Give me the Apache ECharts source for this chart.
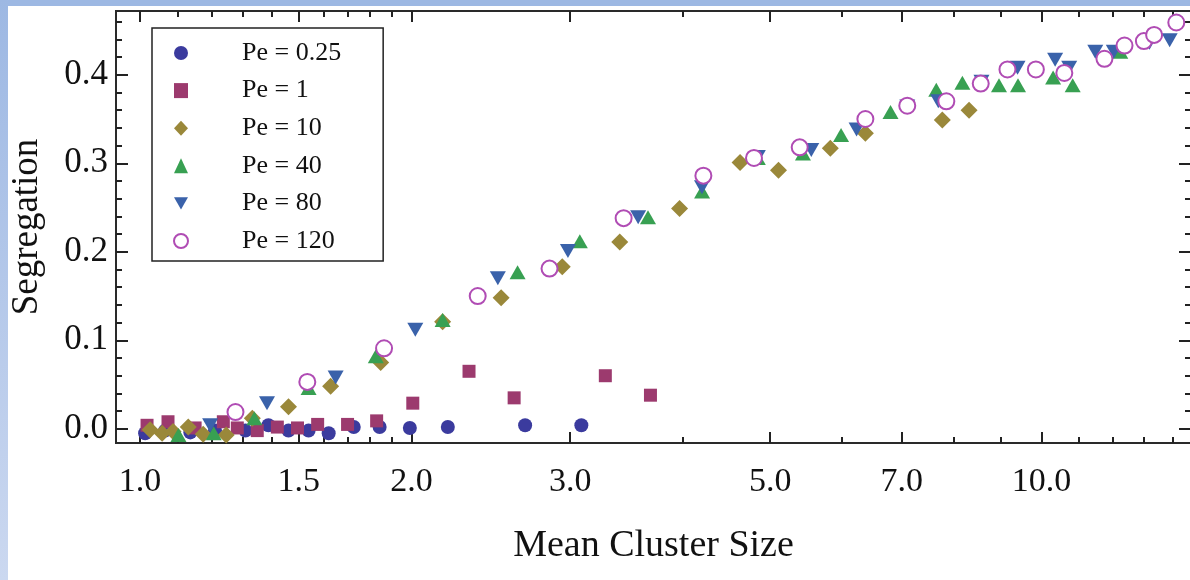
<!DOCTYPE html>
<html>
<head>
<meta charset="utf-8">
<script src="https://cdn.jsdelivr.net/npm/echarts@6/dist/echarts.min.js"></script>
<style>
  html, body { margin: 0; padding: 0; width: 1190px; height: 580px; overflow: hidden; background: #fff; }
  #bandTop { position: absolute; left: 0; top: 0; width: 1190px; height: 6px; background: #9db8e3; }
  #bandLeft { position: absolute; left: 0; top: 0; width: 8px; height: 580px; background: linear-gradient(#9db8e3, #cbd8f0); }
  #chart { position: absolute; left: 0; top: 0; width: 1190px; height: 580px; }
</style>
</head>
<body>
<div id="bandTop"></div>
<div id="bandLeft"></div>
<div id="chart"></div>
<script>
// Segregation versus mean cluster size, one scatter series per Péclet number.
const seriesNames = ['Pe = 0.25', 'Pe = 1', 'Pe = 10', 'Pe = 40', 'Pe = 80', 'Pe = 120'];

// [mean cluster size, segregation]
const pe0_25 = [
  [1.013, -0.005], [1.066, -0.002], [1.137, -0.004], [1.211, -0.002], [1.309, -0.002],
  [1.388, 0.004], [1.461, -0.002], [1.538, -0.002], [1.619, -0.005], [1.726, 0.002],
  [1.844, 0.002], [1.992, 0.001], [2.195, 0.002], [2.674, 0.004], [3.087, 0.004]
];
const pe1 = [
  [1.018, 0.004], [1.074, 0.008], [1.151, 0.001], [1.237, 0.008], [1.282, 0.001],
  [1.349, -0.002], [1.420, 0.002], [1.495, 0.001], [1.574, 0.005], [1.699, 0.005],
  [1.830, 0.009], [2.007, 0.029], [2.317, 0.065], [2.600, 0.035], [3.282, 0.060],
  [3.683, 0.038]
];
const pe10 = [
  [1.026, -0.001], [1.058, -0.005], [1.088, -0.003], [1.131, 0.002], [1.175, -0.006],
  [1.246, -0.007], [1.332, 0.012], [1.461, 0.025], [1.627, 0.048], [1.849, 0.075],
  [2.166, 0.121], [2.515, 0.148], [2.940, 0.183], [3.405, 0.211], [3.967, 0.249],
  [4.630, 0.301], [5.108, 0.292], [5.831, 0.317], [6.377, 0.334], [7.762, 0.349],
  [8.311, 0.360]
];
const pe40 = [
  [1.103, -0.007], [1.207, -0.005], [1.339, 0.012], [1.538, 0.046], [1.826, 0.082],
  [2.166, 0.123], [2.623, 0.177], [3.075, 0.212], [3.660, 0.239], [4.202, 0.268],
  [4.845, 0.306], [5.437, 0.311], [5.993, 0.332], [6.800, 0.358], [7.643, 0.383],
  [8.170, 0.391], [8.971, 0.388], [9.418, 0.388], [10.301, 0.397], [10.829, 0.388],
  [12.229, 0.426]
];
const pe80 = [
  [1.196, 0.004], [1.383, 0.029], [1.648, 0.058], [2.020, 0.112], [2.494, 0.170],
  [2.983, 0.201], [3.569, 0.239], [4.201, 0.273], [4.845, 0.307], [5.554, 0.315],
  [6.235, 0.338], [7.097, 0.364], [7.682, 0.370], [8.578, 0.392], [9.406, 0.408],
  [10.354, 0.417], [10.733, 0.408], [11.472, 0.426], [12.028, 0.426], [13.174, 0.436],
  [13.873, 0.439]
];
const pe120 = [
  [1.276, 0.019], [1.533, 0.053], [1.865, 0.091], [2.369, 0.150], [2.846, 0.181],
  [3.439, 0.238], [4.216, 0.286], [4.798, 0.306], [5.392, 0.318], [6.377, 0.350],
  [7.097, 0.365], [7.842, 0.370], [8.562, 0.390], [9.167, 0.406], [9.857, 0.406],
  [10.600, 0.402], [11.744, 0.418], [12.362, 0.433], [12.989, 0.438], [13.333, 0.445],
  [14.110, 0.459]
];

// Axis ticks
const xMajorTicks = [1.0, 1.5, 2.0, 3.0, 5.0, 7.0, 10.0];
const xMinorTicks = [1.1, 1.2, 1.3, 1.4, 1.6, 1.7, 1.8, 1.9, 4, 6, 8, 9, 11, 12, 13, 14];
const yMajorTicks = [0.0, 0.1, 0.2, 0.3, 0.4];
const yMinorTicks = [0.02, 0.04, 0.06, 0.08, 0.12, 0.14, 0.16, 0.18, 0.22, 0.24, 0.26, 0.28,
                     0.32, 0.34, 0.36, 0.38, 0.42, 0.44, 0.46];

const X_MIN = 0.9404, X_MAX = 14.65;
const Y_MIN = -0.016, Y_MAX = 0.472;

const colors = ['#3b3b9e', '#9c3a6e', '#9a883a', '#38a052', '#3a62aa', '#b04cb4'];
const TICK_COLOR = '#222';
const SERIF = 'Liberation Serif';

// Tick-only x axes live on ln(x), sharing the grid with the hidden log axis
const lnMin = Math.log(X_MIN), lnMax = Math.log(X_MAX);
function xTickAxis(position, values, len, labels) {
  const axis = {
    type: 'value', position: position, min: lnMin, max: lnMax,
    axisLine: { show: false, onZero: false }, splitLine: { show: false },
    axisTick: { show: true, inside: true, length: len, customValues: values.map(Math.log),
                lineStyle: { color: TICK_COLOR, width: 2 } },
    axisLabel: { show: false }
  };
  if (labels) {
    axis.axisLabel = {
      show: true, customValues: values.map(Math.log), margin: 22,
      formatter: v => Math.exp(v).toFixed(1),
      fontFamily: SERIF, fontSize: 34, color: '#111'
    };
    axis.name = 'Mean Cluster Size';
    axis.nameLocation = 'middle';
    axis.nameGap = 84;
    axis.nameTextStyle = { fontFamily: SERIF, fontSize: 38, color: '#111' };
  }
  return axis;
}
function yTickAxis(position, values, len, labels) {
  const axis = {
    type: 'value', position: position, min: Y_MIN, max: Y_MAX,
    axisLine: { show: false, onZero: false }, splitLine: { show: false },
    axisTick: { show: true, inside: true, length: len, customValues: values,
                lineStyle: { color: TICK_COLOR, width: 2 } },
    axisLabel: { show: false }
  };
  if (labels) {
    axis.axisLabel = {
      show: true, customValues: values, margin: 8,
      formatter: v => v.toFixed(1),
      fontFamily: SERIF, fontSize: 35, color: '#111'
    };
    axis.name = 'Segregation';
    axis.nameLocation = 'middle';
    axis.nameGap = 70;
    axis.nameTextStyle = { fontFamily: SERIF, fontSize: 37, color: '#111' };
  }
  return axis;
}

const DOWN_TRIANGLE = 'path://M0,0L10,0L5,8.66Z';
const seriesData = [pe0_25, pe1, pe10, pe40, pe80, pe120];
const symbols = ['circle', 'rect', 'diamond', 'triangle', DOWN_TRIANGLE, 'emptyCircle'];
const symbolSizes = [14, 13, [17, 17], [16, 14], [16, 14], 16];

const series = seriesData.map((d, i) => ({
  type: 'scatter',
  name: seriesNames[i],
  data: d,
  xAxisIndex: 0,
  yAxisIndex: 0,
  symbol: symbols[i],
  symbolSize: symbolSizes[i],
  itemStyle: i === 5
    ? { color: colors[i], borderColor: colors[i], borderWidth: 1.4, opacity: 1 }
    : { color: colors[i], opacity: 1 },
  emphasis: { disabled: true }
}));

const chart = echarts.init(document.getElementById('chart'), null, { renderer: 'canvas' });
chart.setOption({
  backgroundColor: 'transparent',
  animation: false,
  grid: {
    left: 116, top: 11, right: -1, bottom: 137,
    show: true, borderWidth: 2, borderColor: '#2a2a2a',
    outerBoundsMode: 'none'
  },
  legend: {
    orient: 'vertical', left: 152, top: 28,
    padding: [12, 42, 7, 21],
    itemGap: 11.6, itemWidth: 14, itemHeight: 15,
    borderColor: '#222', borderWidth: 1.5, backgroundColor: '#fff',
    textStyle: { fontFamily: SERIF, fontSize: 26, color: '#111', padding: [0, 0, 0, 49] },
    data: seriesNames
  },
  xAxis: [
    { type: 'log', min: X_MIN, max: X_MAX, show: false, axisLine: { onZero: false } },
    xTickAxis('bottom', xMajorTicks, 11, true),
    xTickAxis('bottom', xMinorTicks, 6, false),
    xTickAxis('top', xMajorTicks, 11, false),
    xTickAxis('top', xMinorTicks, 6, false)
  ],
  yAxis: [
    yTickAxis('left', yMajorTicks, 12, true),
    yTickAxis('left', yMinorTicks, 6, false),
    yTickAxis('right', yMajorTicks, 12, false),
    yTickAxis('right', yMinorTicks, 6, false)
  ],
  series: series
});
</script>
</body>
</html>
